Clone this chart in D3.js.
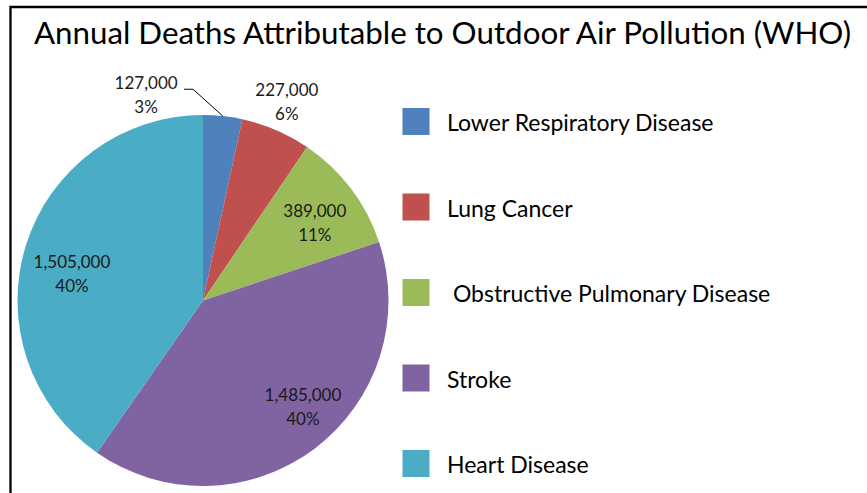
<!DOCTYPE html>
<html>
<head>
<meta charset="utf-8">
<script src="https://cdn.jsdelivr.net/npm/d3@7"></script>
<style>
  html, body { margin: 0; padding: 0; background: #fff; }
  svg { display: block; font-family: Lato, "Open Sans", sans-serif; }
</style>
</head>
<body>
<svg id="chart" width="867" height="493"></svg>
<script>
// ---- data ----
const categories = ["Lower Respiratory Disease", "Lung Cancer", "Obstructive Pulmonary Disease", "Stroke", "Heart Disease"];
const legendLabels = ["Lower Respiratory Disease", "Lung Cancer", " Obstructive Pulmonary Disease", "Stroke", "Heart Disease"];
const deaths = [127000, 227000, 389000, 1485000, 1505000];
const percentLabels = ["3%", "6%", "11%", "40%", "40%"];
const colors = ["#4F81BD", "#C0504D", "#9BBB59", "#8064A2", "#4BACC6"];
const title = "Annual Deaths Attributable to Outdoor Air Pollution (WHO)";

// ---- layout (label placement in polar coords relative to pie centre) ----
const labelAngleDeg = [-15.5, 22.9, 55.3, 136.8, 281.4];
const labelRadius = [213, 215.5, 136, 146, 133.7];

const svg = d3.select("#chart");
const cx = 203, cy = 300.5, R = 185.5;

// frame
svg.append("path")
  .attr("d", "M10.5,500 L10.5,7 L880,7")
  .attr("fill", "none").attr("stroke", "#000").attr("stroke-width", 2.3);

// title
svg.append("text")
  .attr("x", 442.5).attr("y", 44)
  .attr("text-anchor", "middle")
  .attr("font-size", 31.3)
  .attr("fill", "#000")
  .text(title);

const data = categories.map((c, i) => ({ name: c, value: deaths[i], color: colors[i], pct: percentLabels[i], i }));

const pie = d3.pie().value(d => d.value).sort(null);
const arc = d3.arc().innerRadius(0).outerRadius(R);
const arcs = pie(data);

const g = svg.append("g").attr("transform", `translate(${cx},${cy})`);
g.selectAll("path.slice")
  .data(arcs)
  .enter().append("path")
  .attr("class", "slice")
  .attr("d", arc)
  .attr("fill", d => d.data.color)
  .attr("stroke", "none");

const fmt = d3.format(",");

// labels
arcs.forEach((a, i) => {
  const ang = labelAngleDeg[i] * Math.PI / 180;
  const lx = Math.sin(ang) * labelRadius[i];
  const ly = -Math.cos(ang) * labelRadius[i];
  const t = g.append("text")
    .attr("text-anchor", "middle")
    .attr("font-size", 17)
    .attr("fill", "#1a1a1a");
  t.append("tspan").attr("x", lx).attr("y", ly - 6).text(fmt(a.data.value));
  t.append("tspan").attr("x", lx).attr("y", ly + 18).text(a.data.pct);
});

// leader line for the small first slice
{
  const a = arcs[0];
  const mid = (a.startAngle + a.endAngle) / 2;
  const ex = Math.sin(mid) * R, ey = -Math.cos(mid) * R;
  const ang = labelAngleDeg[0] * Math.PI / 180;
  const lx = Math.sin(ang) * labelRadius[0];
  const ly = -Math.cos(ang) * labelRadius[0];
  const sx = lx + 38, sy = ly - 6;
  g.append("path")
    .attr("d", d3.line()([[sx, sy], [sx + 9, sy], [ex, ey]]))
    .attr("fill", "none").attr("stroke", "#000").attr("stroke-width", 1);
}

// legend
const legY0 = 121.5, legStep = 85.5;
const leg = svg.append("g");
data.forEach((d, i) => {
  const y = legY0 + i * legStep;
  leg.append("rect")
    .attr("x", 402.5).attr("y", y - 13.5)
    .attr("width", 27).attr("height", 27)
    .attr("fill", d.color);
  leg.append("text")
    .attr("x", 447).attr("y", y + 9.5)
    .attr("font-size", 23)
    .attr("fill", "#000")
    .attr("xml:space", "preserve")
    .style("white-space", "pre")
    .text(legendLabels[i]);
});
</script>
</body>
</html>
